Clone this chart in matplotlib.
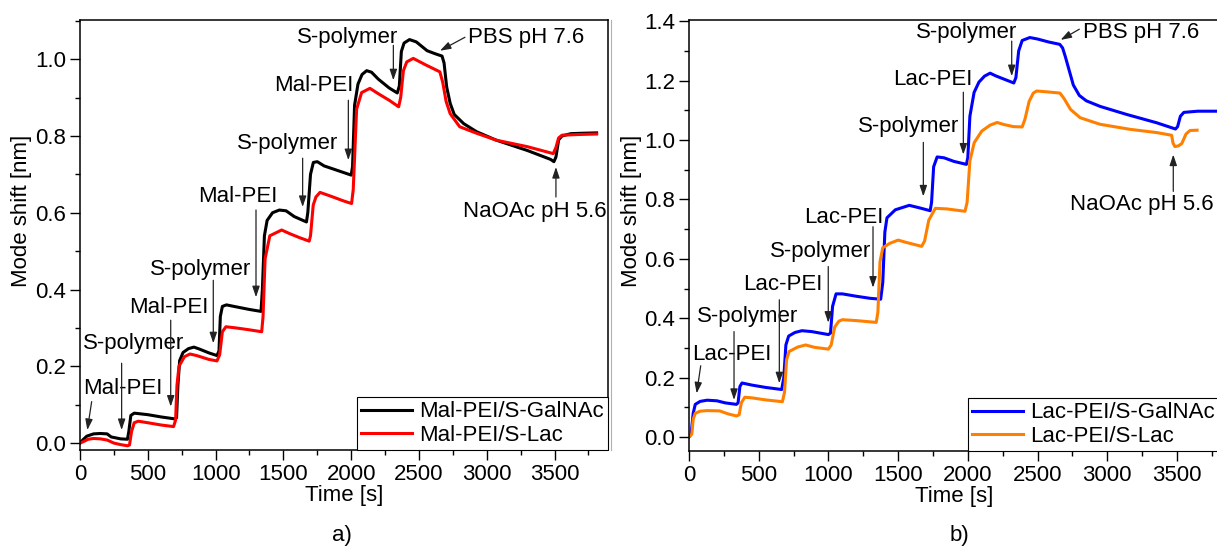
"""Two-panel sensorgram: mode shift vs time for layer-by-layer deposition."""

import matplotlib

matplotlib.use("Agg")

import matplotlib.pyplot as plt  # noqa: E402
from matplotlib.lines import Line2D  # noqa: E402
from matplotlib.ticker import MultipleLocator  # noqa: E402

plt.rcParams["font.family"] = ["Liberation Sans", "DejaVu Sans"]
plt.rcParams["font.size"] = 16

# ---- panel a) data -------------------------------------------------------
t_a_galnac = [0, 20, 50, 100, 150, 200, 230, 300, 350, 360, 375, 400, 500, 600,
              700, 712, 722, 735, 760, 800, 840, 880, 950, 1010, 1025, 1035,
              1050, 1080, 1150, 1250, 1335, 1345, 1360, 1380, 1420, 1470, 1520,
              1580, 1670, 1680, 1700, 1721, 1750, 1800, 1900, 2000, 2010, 2025,
              2050, 2080, 2114, 2150, 2200, 2280, 2340, 2355, 2370, 2390, 2430,
              2480, 2560, 2620, 2670, 2685, 2704, 2730, 2760, 2830, 2925, 3070,
              3300, 3470, 3495, 3510, 3530, 3555, 3620, 3700, 3810]
y_a_galnac = [0.000, 0.008, 0.018, 0.024, 0.025, 0.024, 0.016, 0.011, 0.010,
              0.030, 0.072, 0.078, 0.074, 0.068, 0.063, 0.066, 0.150, 0.215,
              0.236, 0.246, 0.250, 0.245, 0.235, 0.228, 0.240, 0.330, 0.356,
              0.360, 0.355, 0.348, 0.343, 0.400, 0.540, 0.580, 0.600, 0.607,
              0.605, 0.590, 0.576, 0.600, 0.700, 0.731, 0.733, 0.722, 0.710,
              0.698, 0.720, 0.880, 0.935, 0.960, 0.970, 0.966, 0.948, 0.925,
              0.912, 0.930, 1.020, 1.042, 1.051, 1.045, 1.022, 1.014, 1.008,
              0.990, 0.928, 0.885, 0.856, 0.832, 0.811, 0.789, 0.762, 0.739,
              0.733, 0.745, 0.790, 0.800, 0.806, 0.807, 0.808]

t_a_lac = [0, 20, 60, 100, 150, 200, 250, 300, 350, 365, 380, 400, 430, 500,
           600, 690, 705, 715, 730, 770, 811, 860, 950, 1010, 1030, 1050, 1076,
           1150, 1250, 1340, 1350, 1365, 1400, 1487, 1550, 1620, 1690, 1700,
           1720, 1740, 1770, 1850, 1950, 2003, 2015, 2040, 2077, 2138, 2200,
           2280, 2350, 2365, 2385, 2410, 2458, 2550, 2654, 2675, 2700, 2730,
           2800, 2925, 3070, 3300, 3490, 3510, 3530, 3555, 3700, 3810]
y_a_lac = [0.000, 0.003, 0.010, 0.012, 0.011, 0.008, 0.000, -0.004, -0.007,
           -0.005, 0.030, 0.053, 0.057, 0.053, 0.047, 0.043, 0.060, 0.150,
           0.200, 0.225, 0.232, 0.228, 0.218, 0.214, 0.230, 0.290, 0.303,
           0.300, 0.295, 0.290, 0.330, 0.480, 0.540, 0.555, 0.545, 0.535,
           0.526, 0.540, 0.620, 0.641, 0.653, 0.643, 0.630, 0.624, 0.660,
           0.870, 0.913, 0.924, 0.910, 0.893, 0.876, 0.900, 0.970, 0.993,
           1.002, 0.985, 0.967, 0.940, 0.890, 0.858, 0.824, 0.807, 0.789,
           0.772, 0.754, 0.770, 0.795, 0.802, 0.804, 0.805]

# ---- panel b) data -------------------------------------------------------
t_b_galnac = [0, 15, 30, 45, 80, 130, 200, 260, 340, 352, 365, 380, 450, 550,
              665, 680, 695, 715, 760, 810, 880, 1000, 1015, 1030, 1055, 1100,
              1200, 1300, 1375, 1390, 1405, 1420, 1480, 1580, 1650, 1730, 1740,
              1755, 1780, 1830, 1900, 1990, 2000, 2015, 2045, 2080, 2120, 2160,
              2200, 2270, 2330, 2345, 2365, 2390, 2445, 2500, 2580, 2660, 2680,
              2700, 2721, 2757, 2800, 2850, 2950, 3140, 3355, 3490, 3505, 3525,
              3550, 3650, 3800]
y_b_galnac = [0.000, 0.010, 0.080, 0.110, 0.120, 0.124, 0.122, 0.115, 0.110,
              0.115, 0.170, 0.182, 0.175, 0.167, 0.160, 0.200, 0.310, 0.340,
              0.352, 0.358, 0.355, 0.345, 0.350, 0.440, 0.482, 0.482, 0.474,
              0.467, 0.464, 0.520, 0.690, 0.738, 0.765, 0.780, 0.772, 0.762,
              0.790, 0.910, 0.943, 0.940, 0.928, 0.918, 0.940, 1.080, 1.160,
              1.195, 1.215, 1.225, 1.216, 1.203, 1.192, 1.210, 1.300, 1.335,
              1.345, 1.340, 1.330, 1.322, 1.310, 1.280, 1.245, 1.185, 1.150,
              1.132, 1.113, 1.086, 1.058, 1.037, 1.045, 1.080, 1.093, 1.097,
              1.097]

t_b_lac = [0, 20, 30, 45, 80, 130, 220, 280, 340, 360, 375, 400, 450, 550, 670,
           685, 700, 718, 780, 837, 900, 1000, 1020, 1045, 1075, 1100, 1200,
           1343, 1355, 1370, 1390, 1440, 1500, 1560, 1669, 1690, 1720, 1767,
           1850, 1980, 1995, 2015, 2046, 2100, 2160, 2210, 2260, 2327, 2390,
           2410, 2440, 2470, 2494, 2570, 2661, 2690, 2737, 2806, 2948, 3163,
           3355, 3462, 3472, 3485, 3510, 3535, 3565, 3594, 3645]
y_b_lac = [0.000, 0.010, 0.060, 0.080, 0.087, 0.089, 0.088, 0.078, 0.071,
           0.075, 0.115, 0.134, 0.132, 0.125, 0.119, 0.150, 0.260, 0.288,
           0.303, 0.310, 0.302, 0.296, 0.310, 0.370, 0.390, 0.395, 0.392,
           0.386, 0.420, 0.590, 0.637, 0.652, 0.663, 0.655, 0.642, 0.660,
           0.730, 0.770, 0.768, 0.760, 0.790, 0.930, 0.991, 1.030, 1.050,
           1.059, 1.052, 1.045, 1.044, 1.070, 1.130, 1.158, 1.165, 1.162,
           1.158, 1.140, 1.103, 1.075, 1.053, 1.036, 1.025, 1.016, 0.990,
           0.978, 0.980, 0.988, 1.020, 1.032, 1.033]

# annotations: label, text centre (t, y), arrow tail (t, y), arrow tip (t, y)
notes_a = [
    ("Mal-PEI", (317, 0.143), (86, 0.108), (54, 0.034)),
    ("S-polymer", (398, 0.260), (307, 0.208), (307, 0.034)),
    ("Mal-PEI", (653, 0.352), (669, 0.320), (669, 0.095)),
    ("S-polymer", (892, 0.451), (983, 0.424), (983, 0.260)),
    ("Mal-PEI", (1165, 0.641), (1298, 0.607), (1298, 0.380)),
    ("S-polymer", (1530, 0.781), (1642, 0.742), (1642, 0.615)),
    ("Mal-PEI", (1726, 0.932), (1979, 0.893), (1979, 0.737)),
    ("S-polymer", (1976, 1.057), (2311, 1.036), (2311, 0.945)),
    ("PBS pH 7.6", (3293, 1.057), (2839, 1.057), (2655, 1.022)),
    ("NaOAc pH 5.6", (3355, 0.602), (3510, 0.641), (3510, 0.719)),
]
notes_b = [
    ("Lac-PEI", (305, 0.277), (84, 0.240), (55, 0.147)),
    ("S-polymer", (420, 0.405), (323, 0.355), (323, 0.125)),
    ("Lac-PEI", (671, 0.513), (648, 0.462), (648, 0.181)),
    ("S-polymer", (947, 0.624), (999, 0.574), (999, 0.385)),
    ("Lac-PEI", (1108, 0.739), (1320, 0.708), (1320, 0.503)),
    ("S-polymer", (1578, 1.046), (1681, 0.992), (1681, 0.810)),
    ("Lac-PEI", (1747, 1.204), (1968, 1.161), (1968, 0.951)),
    ("S-polymer", (1994, 1.363), (2315, 1.333), (2315, 1.215)),
    ("PBS pH 7.6", (3246, 1.363), (2800, 1.373), (2666, 1.337)),
    ("NaOAc pH 5.6", (3246, 0.783), (3474, 0.827), (3474, 0.951)),
]

ARROW = dict(arrowstyle="-|>,head_length=0.65,head_width=0.22",
             color="#222222", lw=0.9, mutation_scale=10,
             shrinkA=0, shrinkB=0)


def style_axes(ax, xlim, ylim, ylabel_x):
    ax.set_xlim(xlim)
    ax.set_ylim(ylim)
    ax.xaxis.set_major_locator(MultipleLocator(500))
    ax.xaxis.set_minor_locator(MultipleLocator(250))
    ax.yaxis.set_major_locator(MultipleLocator(0.2))
    ax.yaxis.set_minor_locator(MultipleLocator(0.1))
    ax.tick_params(which="both", direction="out", top=False, right=False,
                   width=1.0)
    ax.tick_params(which="major", length=7.2, pad=3)
    ax.tick_params(which="minor", length=3.6)
    for sp in ax.spines.values():
        sp.set_linewidth(1.1)
    ax.set_xlabel("Time [s]", labelpad=0)
    ax.set_ylabel("Mode shift [nm]")
    ax.yaxis.set_label_coords(ylabel_x, 0.556)


def annotate(ax, notes):
    for label, txt, tail, tip in notes:
        ax.annotate("", xy=tip, xytext=tail, arrowprops=ARROW)
        ax.text(txt[0], txt[1], label, ha="center", va="center")


def add_legend(ax):
    leg = ax.legend(loc="lower right", borderaxespad=0, fancybox=False,
                    framealpha=1, edgecolor="black", handlelength=2.3,
                    handletextpad=0.3, labelspacing=0.1, borderpad=0.2)
    leg.get_frame().set_linewidth(0.8)


fig = plt.figure(figsize=(12.17, 5.48), dpi=100)
W, H = 1217, 548
ax_a = fig.add_axes([80 / W, 98 / H, 528 / W, 430 / H])
ax_b = fig.add_axes([689 / W, 97 / H, 530 / W, 431 / H])

# faint border left over from the right-hand image
fig.add_artist(Line2D([611 / W, 611 / W], [1 - 450 / H, 1 - 20 / H],
                      transform=fig.transFigure, color="#b0b0b0", lw=0.8))

ax_a.plot(t_a_galnac, y_a_galnac, color="black", lw=2.2, label="Mal-PEI/S-GalNAc")
ax_a.plot(t_a_lac, y_a_lac, color="#ff0000", lw=2.2, label="Mal-PEI/S-Lac")
style_axes(ax_a, (0, 3894), (-0.018, 1.102), -0.091)
annotate(ax_a, notes_a)
add_legend(ax_a)

ax_b.plot(t_b_galnac, y_b_galnac, color="#0000ff", lw=2.2, label="Lac-PEI/S-GalNAc")
ax_b.plot(t_b_lac, y_b_lac, color="#ff8000", lw=2.2, label="Lac-PEI/S-Lac")
style_axes(ax_b, (0, 3802), (-0.047, 1.404), -0.089)
annotate(ax_b, notes_b)
add_legend(ax_b)

fig.text(342 / W, 1 - 536 / H, "a)", ha="center", va="center", fontsize=16)
fig.text(959 / W, 1 - 536 / H, "b)", ha="center", va="center", fontsize=16)

fig.savefig("out.png", dpi=100)
plt.close(fig)
